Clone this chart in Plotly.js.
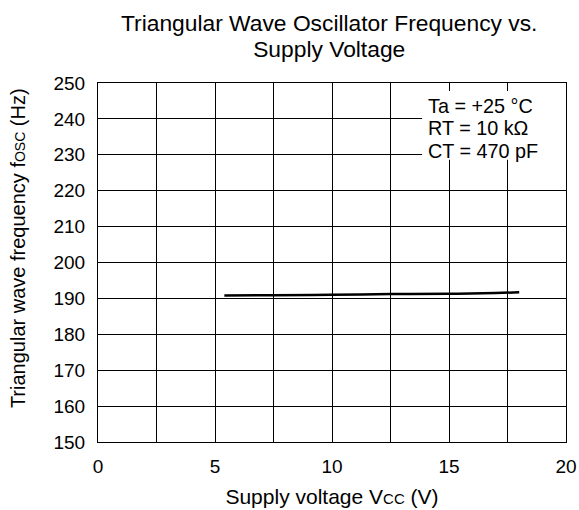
<!DOCTYPE html>
<html>
<head>
<meta charset="utf-8">
<script src="https://cdn.plot.ly/plotly-3.0.1.min.js"></script>
<style>html,body{margin:0;padding:0;background:#fff;}#chart{width:579px;height:510px;}</style>
</head>
<body>
<div id="chart"></div>
<script>
const voltage = [5.4, 7.5, 10, 12.5, 15, 17, 18];
const frequency = [190.8, 190.9, 191.0, 191.2, 191.3, 191.5, 191.7];
const xTicks = [0, 5, 10, 15, 20];
const yTicks = [150, 160, 170, 180, 190, 200, 210, 220, 230, 240, 250];
const titleLines = ["Triangular Wave Oscillator Frequency vs.", "Supply Voltage"];
const xTitle = "Supply voltage V<span style='font-size:15px'>CC</span> (V)";
const yTitle = "Triangular wave frequency f<span style='font-size:14px'>OSC</span> (Hz)";
const conditions = ["Ta = +25 °C", "RT = 10 kΩ", "CT = 470 pF"];

const font = "Liberation Sans, Arial, sans-serif";
const trace = {
  x: voltage, y: frequency, type: "scatter", mode: "lines",
  line: {color: "#000", width: 2.5, shape: "spline"}, hoverinfo: "skip"
};

// Line spacing is 1.3 x the outer font size; the inner span sets the glyph size.
const wrapLines = (lines, px) => lines.map(t => `<span style="font-size:${px}px">${t}</span>`).join("<br>");

const annotations = [
  {
    xref: "paper", yref: "paper", x: 0.4936, y: 1.13,
    xanchor: "center", yanchor: "middle", showarrow: false,
    text: wrapLines(titleLines, 22.8), font: {size: 19.8, family: font, color: "#000"}
  },
  {
    xref: "x", yref: "y", x: 14.0, y: 237.3, xanchor: "left", yanchor: "middle", align: "left",
    text: wrapLines(conditions, 19.8), showarrow: false, font: {size: 17.2, family: font, color: "#000"}
  },
  {
    xref: "paper", yref: "paper", x: -0.171, y: 0.54, xanchor: "center", yanchor: "middle",
    textangle: -90, showarrow: false, text: yTitle, font: {size: 20, family: font, color: "#000"}
  }
];

const layout = {
  width: 579, height: 510,
  margin: {l: 98, r: 13, t: 83, b: 68},
  paper_bgcolor: "#fff", plot_bgcolor: "#fff",
  font: {family: font, color: "#000", size: 19},
  showlegend: false,
  xaxis: {
    range: [0, 20], tickvals: xTicks, ticktext: xTicks.map(String),
    showgrid: true, gridcolor: "#000", gridwidth: 1,
    minor: {dtick: 2.5, showgrid: true, gridcolor: "#000", gridwidth: 1},
    zeroline: false, showline: true, mirror: true, linecolor: "#000", linewidth: 1,
    ticks: "", tickfont: {size: 19}, ticklabelstandoff: 7,
    title: {text: xTitle, font: {size: 21}, standoff: 13}
  },
  yaxis: {
    range: [150, 250], tickvals: yTicks, ticktext: yTicks.map(String),
    showgrid: true, gridcolor: "#000", gridwidth: 1,
    zeroline: false, showline: true, mirror: true, linecolor: "#000", linewidth: 1,
    ticks: "", tickfont: {size: 19}, ticklabelstandoff: 8
  },
  shapes: [{
    type: "rect", xref: "x", yref: "y", x0: 13.85, x1: 20, y0: 228.6, y1: 247.8,
    fillcolor: "#fff", line: {width: 0}, layer: "above"
  }],
  annotations: annotations
};
Plotly.newPlot("chart", [trace], layout, {staticPlot: true, displayModeBar: false});
</script>
</body>
</html>
